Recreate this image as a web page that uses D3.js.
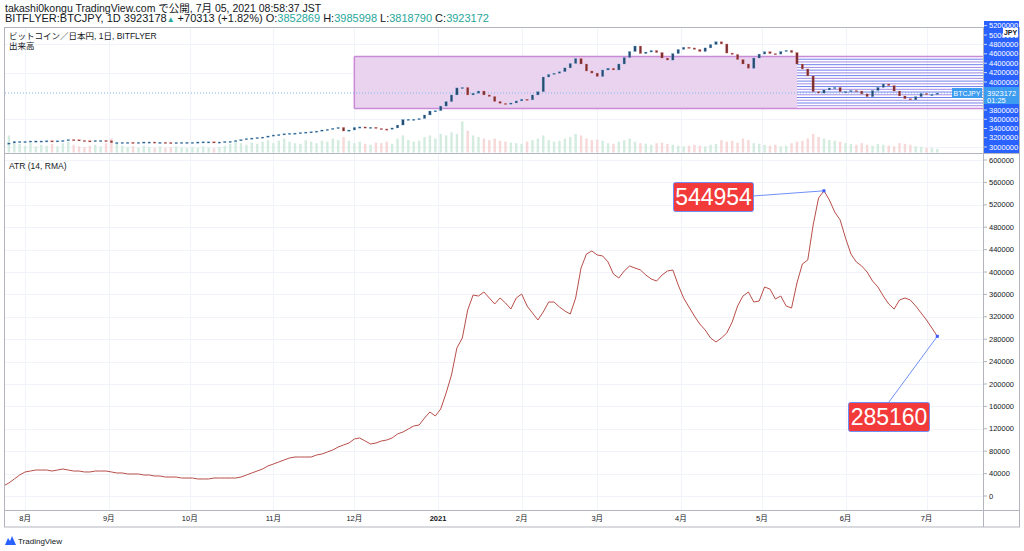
<!DOCTYPE html>
<html>
<head>
<meta charset="utf-8">
<script src="https://cdn.jsdelivr.net/npm/d3@7"></script>
<style>
  body { margin: 0; background: #fff; }
  text { font-family: "Liberation Sans", Arial, "Noto Sans CJK JP", sans-serif; }
</style>
</head>
<body>
<svg id="chart" width="1024" height="551"></svg>
<script>
// 2日ごとのデータ (2020-07-24 〜 2021-07-05)
const startDate = new Date(2020, 6, 24);
const stepDays = 2;

// 終値 (万円)
const closes = [
  98, 100, 109, 109, 109, 112, 112, 112, 113, 112,
  113, 115, 120, 119, 115, 113, 112, 115, 115, 113,
  102, 103, 104, 104, 103, 104, 106, 106, 104, 104,
  103, 102, 103, 104, 104, 104, 106, 107, 107, 106,
  106, 109, 110, 115, 120, 126, 129, 132, 135, 141,
  147, 150, 154, 157, 158, 161, 164, 166, 170, 176,
  180, 186, 191, 170, 176, 191, 194, 192, 192, 185,
  182, 180, 188, 205, 237, 239, 239, 243, 264, 287,
  289, 316, 342, 381, 422, 425, 381, 391, 404, 381,
  372, 343, 332, 331, 334, 346, 356, 352, 381, 400,
  486, 501, 508, 517, 539, 565, 594, 562, 521, 509,
  489, 527, 537, 527, 562, 600, 635, 667, 623, 632,
  641, 629, 597, 585, 623, 647, 660, 656, 647, 635,
  656, 676, 692, 679, 626, 618, 588, 562, 537, 597,
  620, 634, 623, 620, 635, 642, 629, 562, 533, 492,
  400, 392, 410, 422, 425, 400, 401, 407, 404, 387,
  371, 407, 425, 445, 436, 404, 375, 359, 352, 371,
  390, 384, 384, 392
];

// 出来高 (相対値)
const volumes = [
  25, 55, 30, 28, 22, 30, 20, 25, 22, 28,
  20, 30, 35, 25, 20, 18, 22, 25, 20, 30,
  45, 30, 22, 18, 20, 15, 22, 18, 15, 20,
  15, 18, 20, 16, 14, 18, 15, 20, 16, 14,
  18, 22, 28, 35, 30, 25, 32, 28, 35, 40,
  30, 38, 45, 35, 30, 28, 40, 35, 30, 38,
  35, 45, 40, 50, 38, 30, 35, 28, 25, 32,
  30, 35, 28, 45, 55, 40, 35, 38, 50, 55,
  45, 60, 55, 65, 60, 100, 70, 55, 50, 45,
  40, 45, 38, 35, 32, 30, 28, 35, 40, 45,
  55, 40, 35, 38, 45, 50, 60, 55, 45, 40,
  42, 38, 30, 28, 35, 40, 45, 35, 30, 28,
  25, 30, 32, 28, 25, 22, 20, 22, 25, 22,
  20, 25, 28, 40, 35, 38, 32, 45, 40, 30,
  28, 25, 22, 25, 20, 22, 30, 35, 38, 45,
  60, 50, 45, 40, 38, 35, 30, 28, 25, 30,
  25, 22, 28, 25, 22, 20, 30, 28, 25, 20,
  18, 15, 14, 12
];

// ATR (14, RMA)
const atrValues = [
  17900, 23200, 30400, 37500, 42900, 44600, 46400, 46400, 46400, 44600,
  46400, 48200, 46400, 44600, 44600, 42900, 42900, 44600, 44600, 44600,
  42900, 41100, 41100, 39300, 39300, 39300, 37500, 37500, 35700, 35700,
  33900, 33900, 33900, 32100, 32100, 32100, 30400, 30400, 30400, 32100,
  32100, 32100, 32100, 32100, 33900, 37500, 41100, 44600, 48200, 53600,
  57100, 60700, 64300, 67900, 69600, 69600, 69600, 69600, 73200, 75000,
  78600, 82100, 87500, 91100, 94600, 101800, 103600, 98200, 92900, 94600,
  98200, 100000, 103600, 110700, 114300, 119600, 125000, 126800, 139300, 150000,
  142900, 155400, 183900, 216100, 264300, 282100, 332100, 358900, 357100, 364300,
  353600, 342900, 353600, 344600, 333900, 353600, 360700, 339300, 326800, 314300,
  328600, 346400, 346400, 337500, 330400, 325000, 353600, 407100, 432100, 437500,
  430400, 428600, 417900, 396400, 389300, 401800, 410700, 407100, 403600, 394600,
  387500, 383900, 394600, 401800, 403600, 376800, 353600, 337500, 321400, 307100,
  296400, 282100, 275000, 282100, 291100, 310700, 339300, 357100, 364300, 346400,
  348200, 373200, 369600, 351800, 357100, 339300, 335700, 380400, 414300, 421400,
  483900, 532100, 544954, 528600, 507100, 492900, 460700, 432100, 417900, 410700,
  400000, 383900, 373200, 357100, 342900, 333900, 350000, 353600, 350000, 339300,
  326800, 314300, 300000, 285160
];

const monthTicks = [
  new Date(2020, 7, 1), new Date(2020, 8, 1), new Date(2020, 9, 1), new Date(2020, 10, 1),
  new Date(2020, 11, 1), new Date(2021, 0, 1), new Date(2021, 1, 1), new Date(2021, 2, 1),
  new Date(2021, 3, 1), new Date(2021, 4, 1), new Date(2021, 5, 1), new Date(2021, 6, 1)
];
const monthLabels = ["8月", "9月", "10月", "11月", "12月", "2021", "2月", "3月", "4月", "5月", "6月", "7月"];
const atrTicks = [0, 40000, 80000, 120000, 160000, 200000, 240000, 280000, 320000, 360000, 400000, 440000, 480000, 520000, 560000, 600000];
const priceAxisTicks = [5200000, 5000000, 4800000, 4600000, 4400000, 4200000, 4000000, 3800000, 3600000, 3400000, 3200000, 3000000];
const lastPrice = 3923172;
// 描画された長方形 (万円)
const rangeBox = { from: new Date(2020, 11, 1), to: new Date(2021, 4, 14), hi: 606, lo: 302 };
const levelCount = 19;

const data = closes.map((c, i) => ({
  date: d3.timeDay.offset(startDate, i * stepDays),
  open: i > 0 ? closes[i - 1] : c,
  close: c,
  volume: volumes[i],
  atr: atrValues[i]
}));

const svg = d3.select("#chart");
const plotL = 5, plotR = 983, axisR = 1019;
const topY0 = 28, topY1 = 153, atrY0 = 154, atrY1 = 510, timeY1 = 527;

const x = d3.scaleTime()
  .domain([startDate, new Date(2021, 6, 5)])
  .range([3.5, 937.3]);
const yPrice = d3.scaleLinear().domain([100, 700]).range([143, 40.4]);
const yVol = d3.scaleLinear().domain([0, 100]).range([152.5, 121.5]);
const yAtr = d3.scaleLinear().domain([0, 600000]).range([496, 160]);
//価格軸のラベル位置 (スクショの表示どおり)
const yAxisLbl = d3.scaleLinear().domain([3000000, 3800000, 4000000, 5200000]).range([147, 110, 82, 25.6]);

const defs = svg.append("defs");
defs.append("clipPath").attr("id", "clipTop").append("rect")
  .attr("x", plotL).attr("y", topY0).attr("width", plotR - plotL).attr("height", topY1 - topY0);
defs.append("clipPath").attr("id", "clipAtr").append("rect")
  .attr("x", plotL).attr("y", atrY0).attr("width", plotR - plotL).attr("height", atrY1 - atrY0);

// ヘッダー
const head = svg.append("g").attr("font-size", 10.5).attr("fill", "#131722");
head.append("text").attr("x", 5).attr("y", 11.5)
  .text("takashi0kongu TradingView.com で公開, 7月 05, 2021 08:58:37 JST");
const line2 = head.append("text").attr("x", 5).attr("y", 21.5).attr("font-size", 11);
const teal = "#26a69a";
[["BITFLYER:BTCJPY, 1D 3923178", null], ["▲", teal], [" +70313 (+1.82%) O:", null], ["3852869", teal],
 [" H:", null], ["3985998", teal], [" L:", null], ["3818790", teal], [" C:", null], ["3923172", teal]]
  .forEach(([t, c]) => {
    const s = line2.append("tspan").text(t);
    if (c) s.attr("fill", c);
    if (t === "▲") s.attr("font-size", 8);
  });

// グリッド
const grid = svg.append("g").attr("stroke", "#f0f3fa").attr("stroke-width", 1);
grid.selectAll("line.v").data(monthTicks).join("line")
  .attr("x1", d => Math.round(x(d)) + 0.5).attr("x2", d => Math.round(x(d)) + 0.5)
  .attr("y1", topY0).attr("y2", atrY1);
grid.selectAll("line.h").data(atrTicks).join("line")
  .attr("x1", plotL).attr("x2", plotR)
  .attr("y1", d => Math.round(yAtr(d)) + 0.5).attr("y2", d => Math.round(yAtr(d)) + 0.5);
grid.selectAll("line.ht").data([4800000, 4200000, 3600000, 3000000]).join("line")
  .attr("x1", plotL).attr("x2", plotR)
  .attr("y1", d => Math.round(yAxisLbl(d)) + 0.5).attr("y2", d => Math.round(yAxisLbl(d)) + 0.5);

// 上段: 出来高・ローソク足
const topG = svg.append("g").attr("clip-path", "url(#clipTop)");
topG.selectAll("rect.vol").data(data).join("rect")
  .attr("x", d => x(d.date) - 1.2).attr("width", 2.4)
  .attr("y", d => yVol(d.volume)).attr("height", d => yVol(0) - yVol(d.volume))
  .attr("fill", d => d.close >= d.open ? "#d3ecdf" : "#f6d8d8");

// レンジの箱
const bx0 = x(rangeBox.from), bx1 = x(rangeBox.to);
const by0 = yPrice(rangeBox.hi), by1 = yPrice(rangeBox.lo);
topG.append("rect").attr("x", bx0).attr("y", by0).attr("width", bx1 - bx0).attr("height", by1 - by0)
  .attr("fill", "#ead3ee");
const levels = d3.range(1, levelCount).map(k => by0 + (by1 - by0) * k / levelCount);
topG.selectAll("line.lvl").data(levels).join("line")
  .attr("x1", bx1).attr("x2", plotR).attr("y1", d => d).attr("y2", d => d)
  .attr("stroke", (d, i) => i % 2 ? "#a08be6" : "#717ff0").attr("stroke-width", 1);
topG.selectAll("line.edge").data([by0, by1]).join("line")
  .attr("x1", bx0).attr("x2", plotR).attr("y1", d => d).attr("y2", d => d)
  .attr("stroke", "#c98bd8").attr("stroke-width", 1.5);
topG.append("line").attr("x1", bx0).attr("x2", bx0).attr("y1", by0).attr("y2", by1)
  .attr("stroke", "#c98bd8").attr("stroke-width", 1.5);

// 現在値の点線
topG.append("line").attr("x1", plotL).attr("x2", plotR)
  .attr("y1", yPrice(lastPrice / 10000)).attr("y2", yPrice(lastPrice / 10000))
  .attr("stroke", "#7fb8ee").attr("stroke-dasharray", "1,2");

topG.selectAll("rect.candle").data(data.slice(1)).join("rect")
  .attr("x", d => x(d.date) - 1.2).attr("width", 2.4)
  .attr("y", d => yPrice(Math.max(d.open, d.close)))
  .attr("height", d => Math.max(1.2, Math.abs(yPrice(d.open) - yPrice(d.close))))
  .attr("fill", d => d.close >= d.open ? "#2a4b6c" : "#7a3030")
  .attr("stroke", d => d.close >= d.open ? "#5aa7e0" : "#ea7f7f")
  .attr("stroke-width", 0.3);

// 上段の凡例
const lg = svg.append("g").attr("font-size", 8.5).attr("fill", "#131722");
lg.append("text").attr("x", 9).attr("y", 39).text("ビットコイン／日本円, 1日, BITFLYER");
lg.append("text").attr("x", 9).attr("y", 49).text("出来高");

// 下段: ATR
const atrG = svg.append("g").attr("clip-path", "url(#clipAtr)");
atrG.append("path").datum(data)
  .attr("fill", "none").attr("stroke", "#b84e48").attr("stroke-width", 1)
  .attr("d", d3.line().x(d => x(d.date)).y(d => yAtr(d.atr)));
svg.append("text").attr("x", 9).attr("y", 169).attr("font-size", 8.5).attr("fill", "#131722")
  .text("ATR (14, RMA)");

// 注釈
const peak = data.reduce((a, b) => (b.atr > a.atr ? b : a));
const last = data[data.length - 1];
const notes = [
  { d: peak, bx: 673, by: 182, w: 80, h: 29, ax: 753, ay: 196 },
  { d: last, bx: 848, by: 402, w: 81, h: 29, ax: 889, ay: 402 }
];
notes.forEach(n => {
  const px = x(n.d.date), py = yAtr(n.d.atr);
  svg.append("line").attr("x1", n.ax).attr("y1", n.ay).attr("x2", px).attr("y2", py)
    .attr("stroke", "#6f8ff7").attr("stroke-width", 1);
  svg.append("rect").attr("x", px - 1.5).attr("y", py - 1.5).attr("width", 3).attr("height", 3)
    .attr("fill", "#3d5afe");
  svg.append("rect").attr("x", n.bx + 0.5).attr("y", n.by + 0.5).attr("width", n.w).attr("height", n.h)
    .attr("rx", 2).attr("fill", "#f23a3a").attr("stroke", "#6f8ff7");
  svg.append("text").attr("x", n.bx + n.w / 2 + 0.5).attr("y", n.by + n.h / 2 + 8.5)
    .attr("text-anchor", "middle").attr("font-size", 23).attr("fill", "#fff")
    .text(d3.format("d")(n.d.atr));
});

// 枠線
const frame = svg.append("g").attr("stroke", "#b2b5be").attr("fill", "none");
frame.append("rect").attr("x", 4.5).attr("y", topY0 - 0.5).attr("width", axisR - 4).attr("height", timeY1 - topY0 + 0.5);
frame.append("line").attr("x1", plotL).attr("x2", axisR).attr("y1", topY1 + 0.5).attr("y2", topY1 + 0.5);
frame.append("line").attr("x1", plotL).attr("x2", axisR).attr("y1", atrY1 + 0.5).attr("y2", atrY1 + 0.5);
frame.append("line").attr("x1", plotR + 0.5).attr("x2", plotR + 0.5).attr("y1", topY0).attr("y2", timeY1);

// 価格軸 (選択中で青)
const pa = svg.append("g");
pa.append("rect").attr("x", plotR + 1).attr("y", 21).attr("width", axisR - plotR - 1).attr("height", topY1 - 21)
  .attr("fill", "#2962ff");
pa.selectAll("text").data(priceAxisTicks).join("text")
  .attr("x", 989).attr("y", d => yAxisLbl(d) + 2.5)
  .attr("font-size", 7.5).attr("fill", "#fff").text(d => d);
pa.selectAll("line").data(priceAxisTicks).join("line")
  .attr("x1", plotR + 1).attr("x2", plotR + 4)
  .attr("y1", d => yAxisLbl(d)).attr("y2", d => yAxisLbl(d)).attr("stroke", "#cfd8ff");
pa.append("rect").attr("x", 1003).attr("y", 28).attr("width", 15).attr("height", 9).attr("fill", "#fff");
pa.append("text").attr("x", 1010.5).attr("y", 35).attr("text-anchor", "middle")
  .attr("font-size", 7).attr("font-weight", "bold").attr("fill", "#131722").text("JPY");
const ly = yPrice(lastPrice / 10000);
pa.append("rect").attr("x", plotR + 1).attr("y", ly - 6).attr("width", axisR - plotR - 1).attr("height", 17)
  .attr("fill", "#3b9cf0");
pa.append("text").attr("x", 987).attr("y", ly + 2.5).attr("font-size", 7.5).attr("fill", "#fff").text(lastPrice);
pa.append("text").attr("x", 987).attr("y", ly + 9.5).attr("font-size", 7.5).attr("fill", "#fff").text("01:25");
pa.append("rect").attr("x", 952).attr("y", ly - 5).attr("width", 30).attr("height", 10).attr("fill", "#3b9cf0");
pa.append("text").attr("x", 967).attr("y", ly + 2.5).attr("text-anchor", "middle")
  .attr("font-size", 7).attr("fill", "#fff").text("BTCJPY");

// ATR 軸
const aa = svg.append("g");
aa.selectAll("line").data(atrTicks).join("line")
  .attr("x1", plotR + 1).attr("x2", plotR + 4)
  .attr("y1", d => yAtr(d)).attr("y2", d => yAtr(d)).attr("stroke", "#b2b5be");
aa.selectAll("text").data(atrTicks).join("text")
  .attr("x", 989).attr("y", d => yAtr(d) + 2.5)
  .attr("font-size", 7.5).attr("fill", "#131722").text(d => d);

// 時間軸
svg.append("g").selectAll("text").data(monthTicks).join("text")
  .attr("x", d => x(d)).attr("y", 521).attr("text-anchor", "middle")
  .attr("font-size", 7.5).attr("fill", "#131722")
  .attr("font-weight", (d, i) => monthLabels[i] === "2021" ? "bold" : null)
  .text((d, i) => monthLabels[i]);

// ロゴ
const logo = svg.append("g");
logo.append("path").attr("d", "M5,545 L8,538 L10,541 L12,536 L16,545 Z").attr("fill", "#2962ff");
logo.append("text").attr("x", 18).attr("y", 544).attr("font-size", 8).attr("fill", "#131722").text("TradingView");
</script>
</body>
</html>
